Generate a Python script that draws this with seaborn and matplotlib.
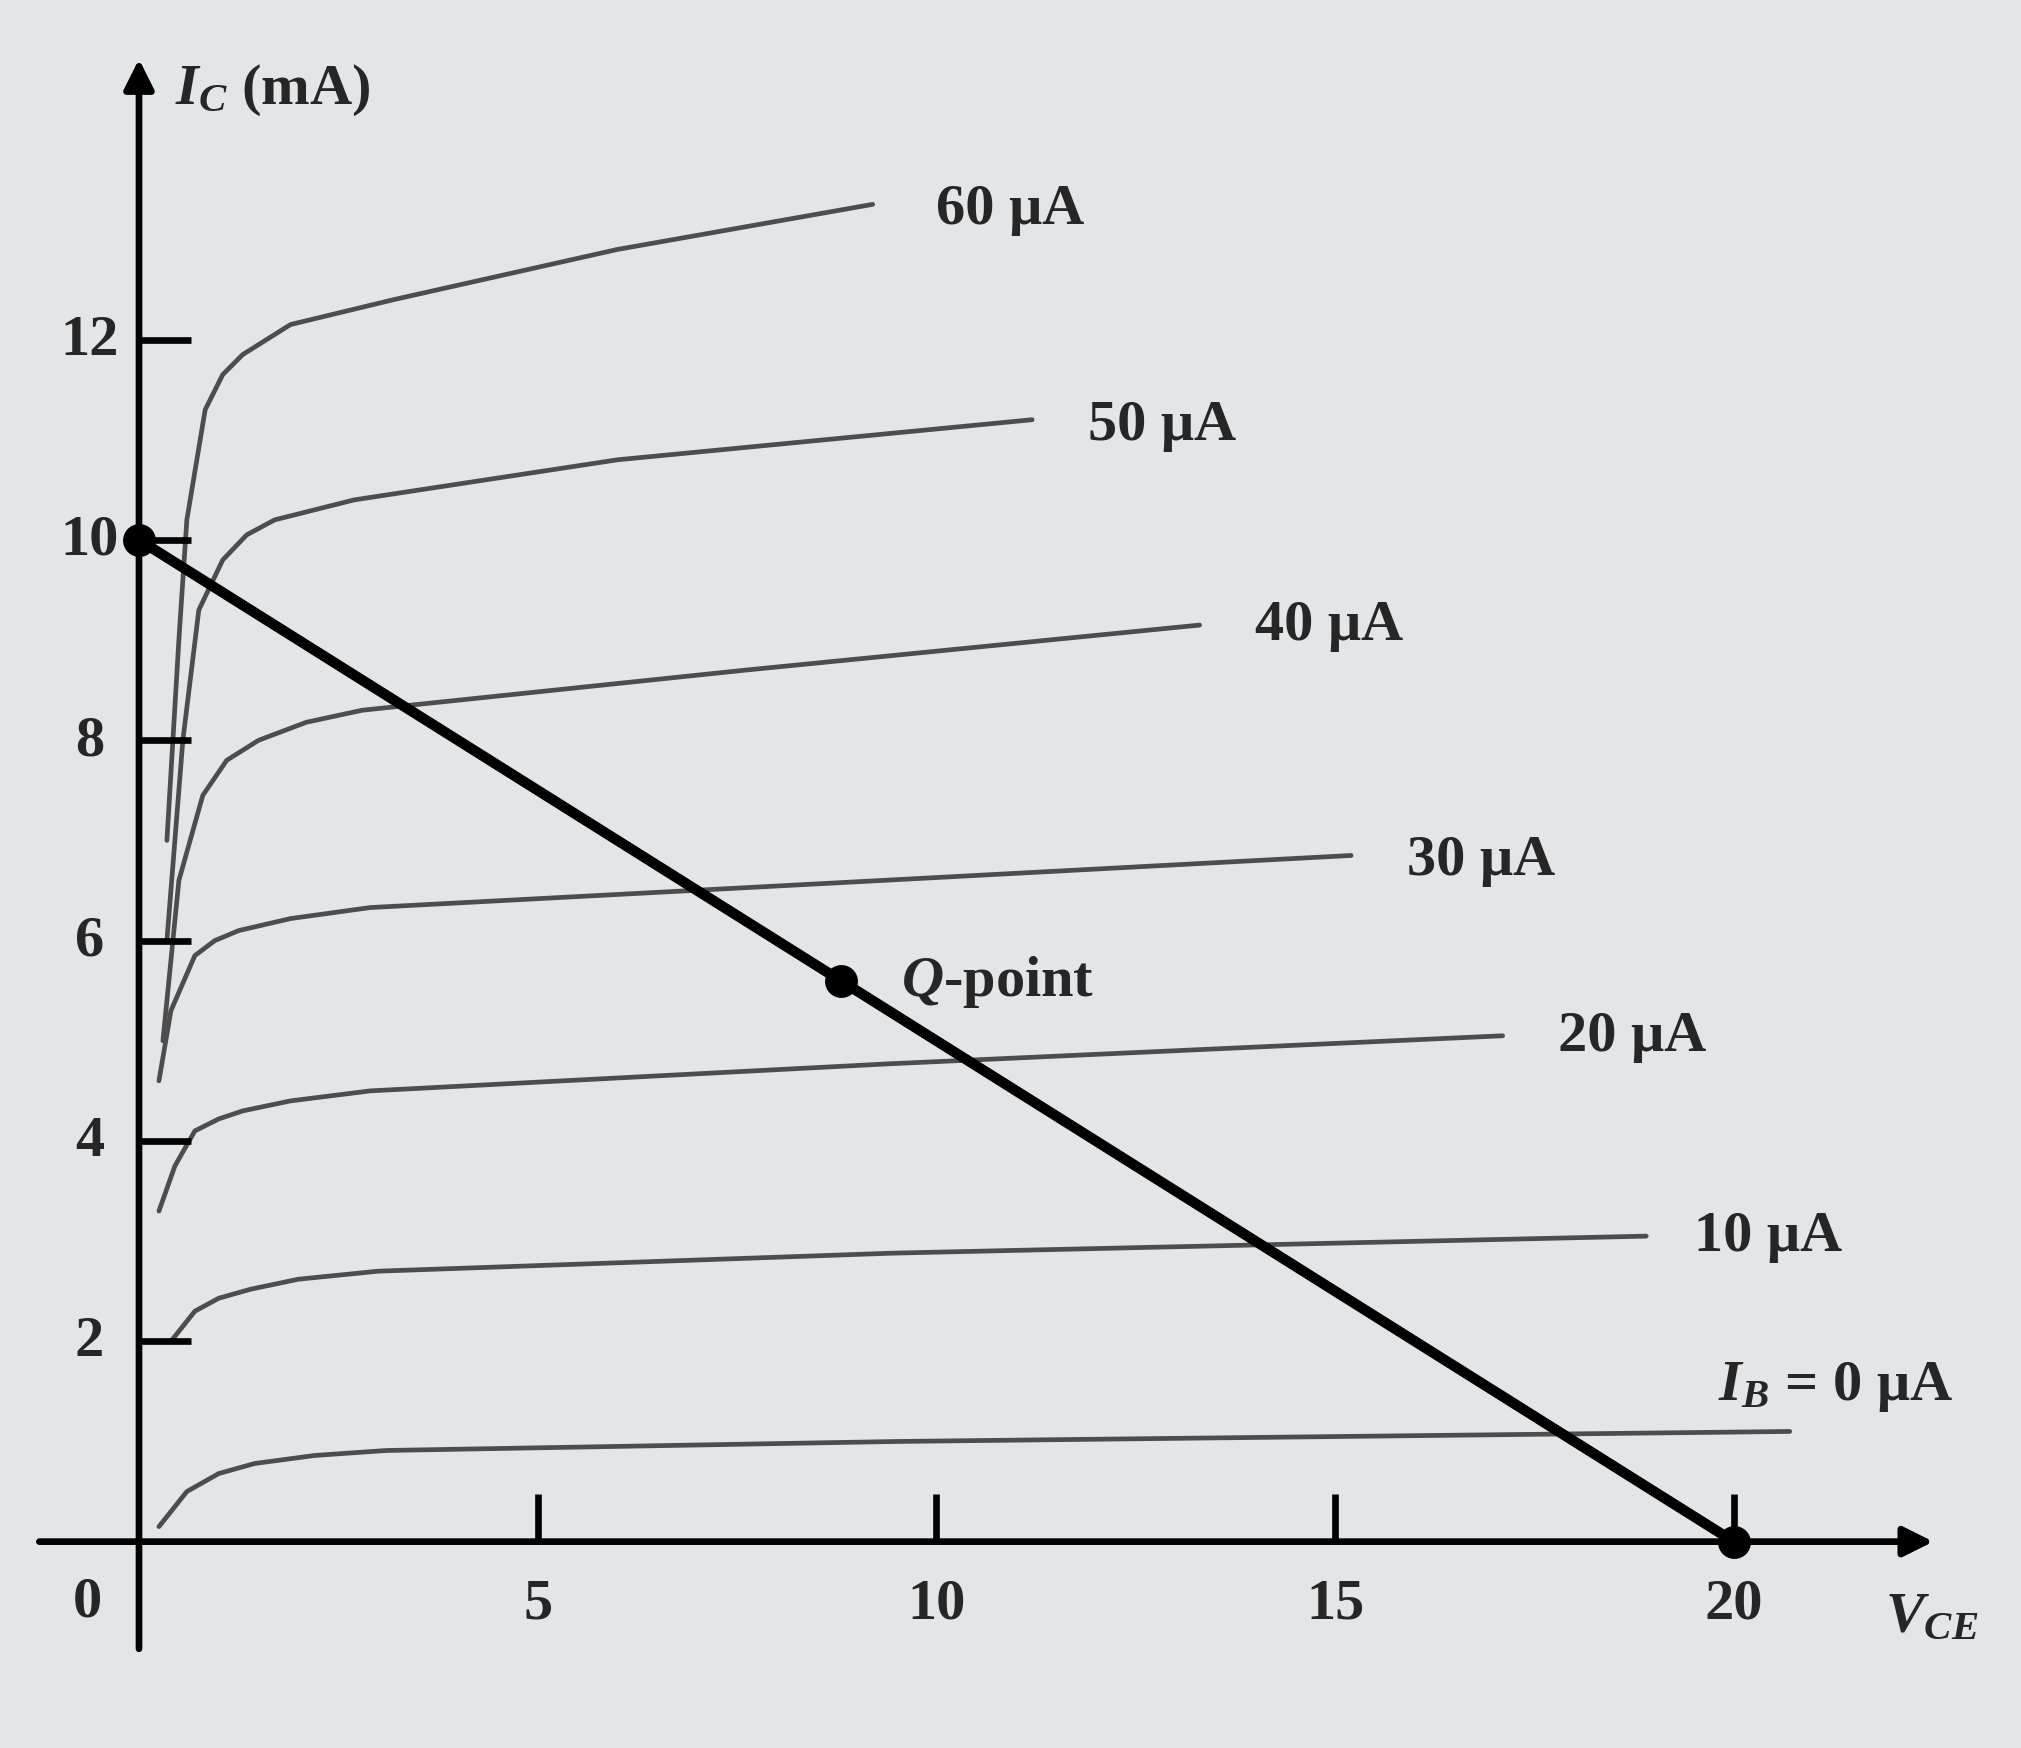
import numpy as np
import pandas as pd
import matplotlib
matplotlib.use("Agg")
import matplotlib.pyplot as plt
import seaborn as sns

# ---------------- data ----------------
curve_names = ["0", "10", "20", "30", "40", "50", "60"]
curve_labels = [r"$I_B$ = 0 μA", "10 μA", "20 μA", "30 μA", "40 μA", "50 μA", "60 μA"]

v_ib0 = [0.25, 0.6, 1.0, 1.45, 2.2, 3.1, 9.5, 20.7]
i_ib0 = [0.15, 0.5, 0.68, 0.78, 0.86, 0.91, 1.0, 1.1]

v_ib10 = [0.4, 0.7, 1.0, 1.4, 2.0, 3.0, 9.45, 18.9]
i_ib10 = [2.0, 2.3, 2.43, 2.52, 2.62, 2.7, 2.88, 3.05]

v_ib20 = [0.25, 0.45, 0.7, 1.0, 1.3, 1.9, 2.9, 9.4, 17.1]
i_ib20 = [3.3, 3.75, 4.1, 4.22, 4.3, 4.4, 4.5, 4.77, 5.05]

v_ib30 = [0.25, 0.4, 0.7, 0.95, 1.25, 1.9, 2.9, 9.3, 15.2]
i_ib30 = [4.6, 5.3, 5.85, 6.0, 6.1, 6.22, 6.33, 6.6, 6.85]

v_ib40 = [0.3, 0.5, 0.8, 1.1, 1.5, 2.1, 2.8, 7.6, 13.3]
i_ib40 = [5.0, 6.6, 7.45, 7.8, 8.0, 8.18, 8.3, 8.7, 9.15]

v_ib50 = [0.35, 0.55, 0.75, 1.05, 1.35, 1.7, 2.7, 6.0, 11.2]
i_ib50 = [6.0, 8.0, 9.3, 9.8, 10.05, 10.2, 10.4, 10.8, 11.2]

v_ib60 = [0.35, 0.5, 0.6, 0.83, 1.05, 1.3, 1.9, 3.2, 6.0, 9.2]
i_ib60 = [7.0, 9.0, 10.2, 11.3, 11.65, 11.85, 12.15, 12.4, 12.9, 13.35]

curve_v = [v_ib0, v_ib10, v_ib20, v_ib30, v_ib40, v_ib50, v_ib60]
curve_i = [i_ib0, i_ib10, i_ib20, i_ib30, i_ib40, i_ib50, i_ib60]

# curve label anchor (left edge) positions
label_v = [19.8, 19.5, 17.8, 15.9, 14.0, 11.9, 10.0]
label_i = [1.55, 3.05, 5.05, 6.8, 9.15, 11.15, 13.3]

# load line and points
load_v = [0.0, 20.0]
load_i = [10.0, 0.0]
q_v, q_i = 8.8, 5.6
dot_v = [0.0, q_v, 20.0]
dot_i = [10.0, q_i, 0.0]

x_ticks = [5, 10, 15, 20]
x_tick_labels = ["5", "10", "15", "20"]
y_ticks = [2, 4, 6, 8, 10, 12]
y_tick_labels = ["2", "4", "6", "8", "10", "12"]

# ---------------- style ----------------
sns.set_theme(style="white")
plt.rcParams["font.family"] = ["Liberation Serif", "DejaVu Serif"]
plt.rcParams["font.weight"] = "bold"
plt.rcParams["mathtext.fontset"] = "custom"
plt.rcParams["mathtext.rm"] = "Liberation Serif:bold"
plt.rcParams["mathtext.it"] = "Liberation Serif:italic:bold"
plt.rcParams["mathtext.bf"] = "Liberation Serif:bold"

bg = "#e3e6e9"
fig = plt.figure(figsize=(20.21, 17.49), dpi=100, facecolor=bg)
ax = fig.add_axes([0, 0, 1, 1])
ax.set_facecolor(bg)
ax.set_xlim(-1.743, 23.6)
ax.set_ylim(-2.06, 15.4)
ax.axis("off")

# characteristic curves
rows = []
for name, vs, is_ in zip(curve_names, curve_v, curve_i):
    for v, i in zip(vs, is_):
        rows.append({"curve": name, "V": v, "I": i})
df = pd.DataFrame(rows)
sns.lineplot(data=df, x="V", y="I", units="curve", estimator=None, sort=False,
             color="#4d4d4d", linewidth=3.4, ax=ax, legend=False)

# load line
load_df = pd.DataFrame({"V": load_v, "I": load_i})
sns.lineplot(data=load_df, x="V", y="I", color="black", linewidth=7.5, ax=ax,
             estimator=None, sort=False, legend=False)
dots_df = pd.DataFrame({"V": dot_v, "I": dot_i})
sns.scatterplot(data=dots_df, x="V", y="I", color="black", s=480, ax=ax,
                edgecolor="black", zorder=5, legend=False)

# axes with arrows
arrow_kw = dict(arrowstyle="-|>", lw=4.8, color="black", mutation_scale=45,
                shrinkA=0, shrinkB=0)
ax.annotate("", xy=(22.5, 0), xytext=(-1.25, 0), arrowprops=arrow_kw)
ax.annotate("", xy=(0, 14.8), xytext=(0, -1.07), arrowprops=arrow_kw)

# ticks
ax.vlines(x_ticks, 0, 0.48, color="black", linewidth=4.8)
ax.hlines(y_ticks, 0, 0.65, color="black", linewidth=4.8)

fs = 42
for t, lab in zip(x_ticks, x_tick_labels):
    ax.text(t, -0.62, lab, ha="center", va="center", fontsize=fs, fontweight="bold")
for t, lab in zip(y_ticks, y_tick_labels):
    ax.text(-0.62, t, lab, ha="center", va="center", fontsize=fs, fontweight="bold")
ax.text(-0.65, -0.6, "0", ha="center", va="center", fontsize=fs, fontweight="bold")

# axis titles
ax.text(0.45, 14.5, r"$I_C$ (mA)", ha="left", va="center", fontsize=fs, fontweight="bold")
ax.text(21.9, -0.75, r"$V_{CE}$", ha="left", va="center", fontsize=fs, fontweight="bold")

# curve labels
for v, i, lab in zip(label_v, label_i, curve_labels):
    ax.text(v, i, lab, ha="left", va="center", fontsize=fs, fontweight="bold")

# Q-point label
ax.text(q_v + 0.75, q_i, r"$Q$-point", ha="left", va="center", fontsize=fs, fontweight="bold")

fig.savefig("out.png", dpi=100, facecolor=bg)
